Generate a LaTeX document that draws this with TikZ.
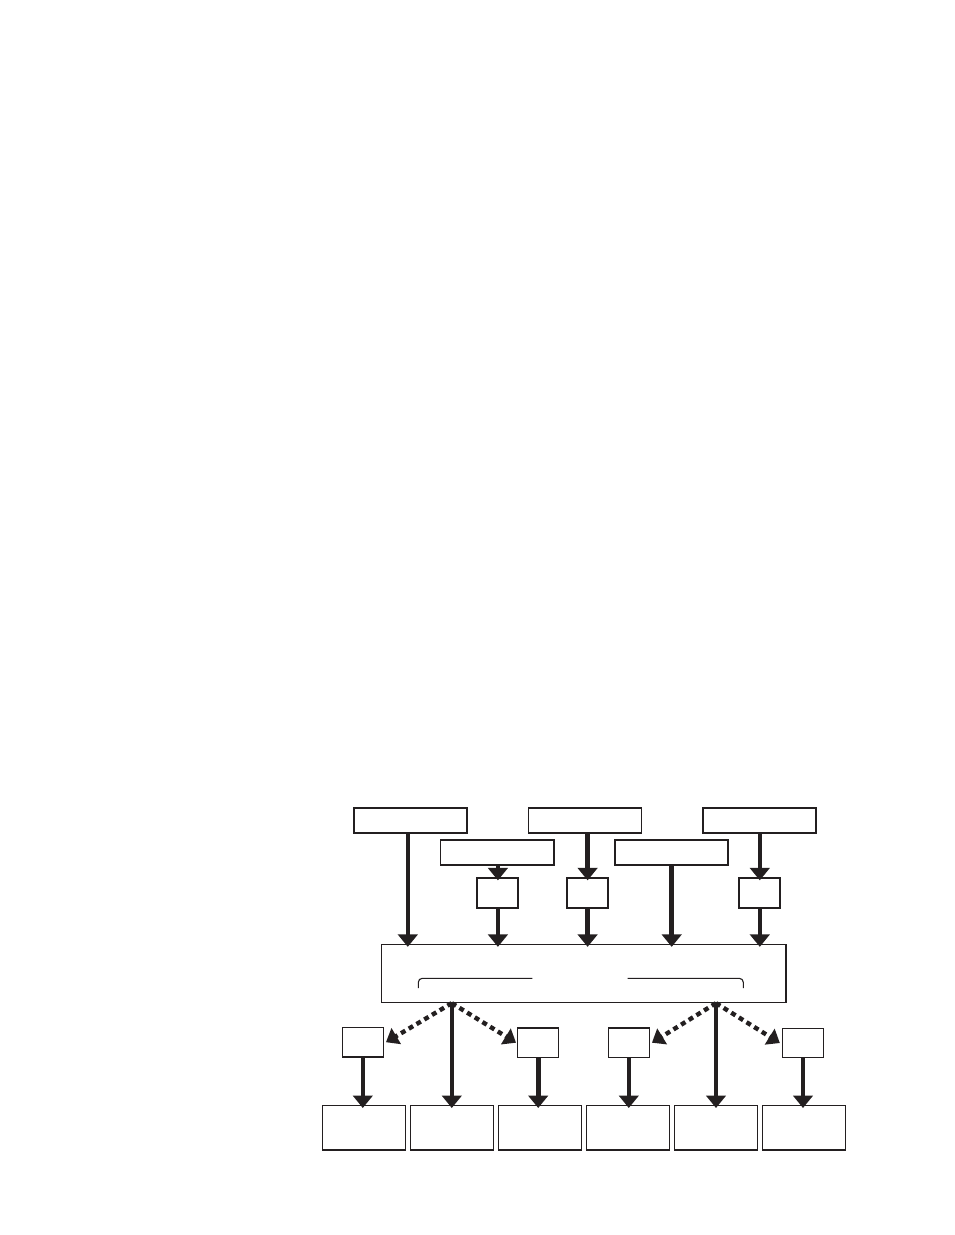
\documentclass[tikz,border=0pt]{standalone}
\usetikzlibrary{arrows.meta}
\definecolor{ink}{HTML}{231F20}
\begin{document}
\begin{tikzpicture}[x=1pt,y=-1pt,
  boxs/.style={draw=ink,line width=1.3pt,inner sep=0pt,fill=white},
  arr/.style={draw=ink,line width=4.6pt,-{Triangle[width=19.5pt,length=12.5pt]},shorten >=-3pt},
  dotarr/.style={draw=ink,line width=4.4pt,dash pattern=on 5pt off 4pt,-{Triangle[width=18pt,length=12pt]}}
]
\useasboundingbox (0,0) rectangle (954,1235);
% top row
\node[boxs,minimum width=113pt,minimum height=25pt] (T1) at (410.5,820.5) {};
\node[boxs,minimum width=113pt,minimum height=25pt] (T2) at (585,820.5) {};
\node[boxs,minimum width=113pt,minimum height=25pt] (T3) at (759.5,820.5) {};
% second row
\node[boxs,minimum width=113.5pt,minimum height=25pt] (A) at (497.3,852.5) {};
\node[boxs,minimum width=113pt,minimum height=25pt] (B) at (671.5,852.5) {};
% small boxes
\node[boxs,minimum width=41pt,minimum height=30pt] (S1) at (497.5,893) {};
\node[boxs,minimum width=41pt,minimum height=30pt] (S2) at (587.5,893) {};
\node[boxs,minimum width=41pt,minimum height=30pt] (S3) at (759.5,893) {};
% main box
\node[boxs,minimum width=404.5pt,minimum height=58pt] (M) at (583.75,973.5) {};
% middle boxes
\node[boxs,minimum width=41pt,minimum height=29.5pt] (m1) at (362.8,1042.2) {};
\node[boxs,minimum width=41pt,minimum height=29.5pt] (m2) at (538.2,1042.7) {};
\node[boxs,minimum width=41pt,minimum height=29.5pt] (m3) at (628.8,1042.7) {};
\node[boxs,minimum width=41pt,minimum height=29.5pt] (m4) at (803,1043) {};
% bottom boxes
\node[boxs,minimum width=83pt,minimum height=44.3pt] (b1) at (364,1127.8) {};
\node[boxs,minimum width=83pt,minimum height=44.3pt] (b2) at (451.8,1127.8) {};
\node[boxs,minimum width=83pt,minimum height=44.3pt] (b3) at (540,1127.8) {};
\node[boxs,minimum width=83pt,minimum height=44.3pt] (b4) at (628,1127.8) {};
\node[boxs,minimum width=83pt,minimum height=44.3pt] (b5) at (716,1127.8) {};
\node[boxs,minimum width=83pt,minimum height=44.3pt] (b6) at (804,1127.8) {};
% columns
\coordinate (c1) at (407.8,0);
\coordinate (c2) at (497.9,0);
\coordinate (c3) at (587.6,0);
\coordinate (c4) at (671.7,0);
\coordinate (c5) at (759.8,0);
% top arrows
\draw[arr] (T1.south -| c1) -- (M.north -| c1);
\draw[arr] (A.south -| c2) -- (S1.north -| c2);
\draw[arr] (S1.south -| c2) -- (M.north -| c2);
\draw[arr] (T2.south -| c3) -- (S2.north -| c3);
\draw[arr] (S2.south -| c3) -- (M.north -| c3);
\draw[arr] (B.south -| c4) -- (M.north -| c4);
\draw[arr] (T3.south -| c5) -- (S3.north -| c5);
\draw[arr] (S3.south -| c5) -- (M.north -| c5);
% bracket inside main box
\draw[draw=ink,line width=1.1pt,rounded corners=4pt] (418.3,988) -- (418.3,978.3) -- (532.3,978.3);
\draw[draw=ink,line width=1.1pt,rounded corners=4pt] (627.7,978.3) -- (743.3,978.3) -- (743.3,988);
% lower arrows
\coordinate (o1) at (M.south -| b2.north);
\coordinate (o2) at (M.south -| b5.north);
\draw[dotarr] (o1) -- ([xshift=2pt]m1.east);
\draw[dotarr] (o1) -- ([xshift=-1pt]m2.west);
\draw[dotarr] (o2) -- ([xshift=2pt]m3.east);
\draw[dotarr] (o2) -- ([xshift=-2pt]m4.west);
\draw[arr] (o1) -- (b2.north);
\draw[arr] (o2) -- (b5.north);
\draw[arr] (m1.south) -- (b1.north -| m1.south);
\draw[arr] (m2.south) -- (b3.north -| m2.south);
\draw[arr] (m3.south) -- (b4.north -| m3.south);
\draw[arr] (m4.south) -- (b6.north -| m4.south);
\end{tikzpicture}
\end{document}
